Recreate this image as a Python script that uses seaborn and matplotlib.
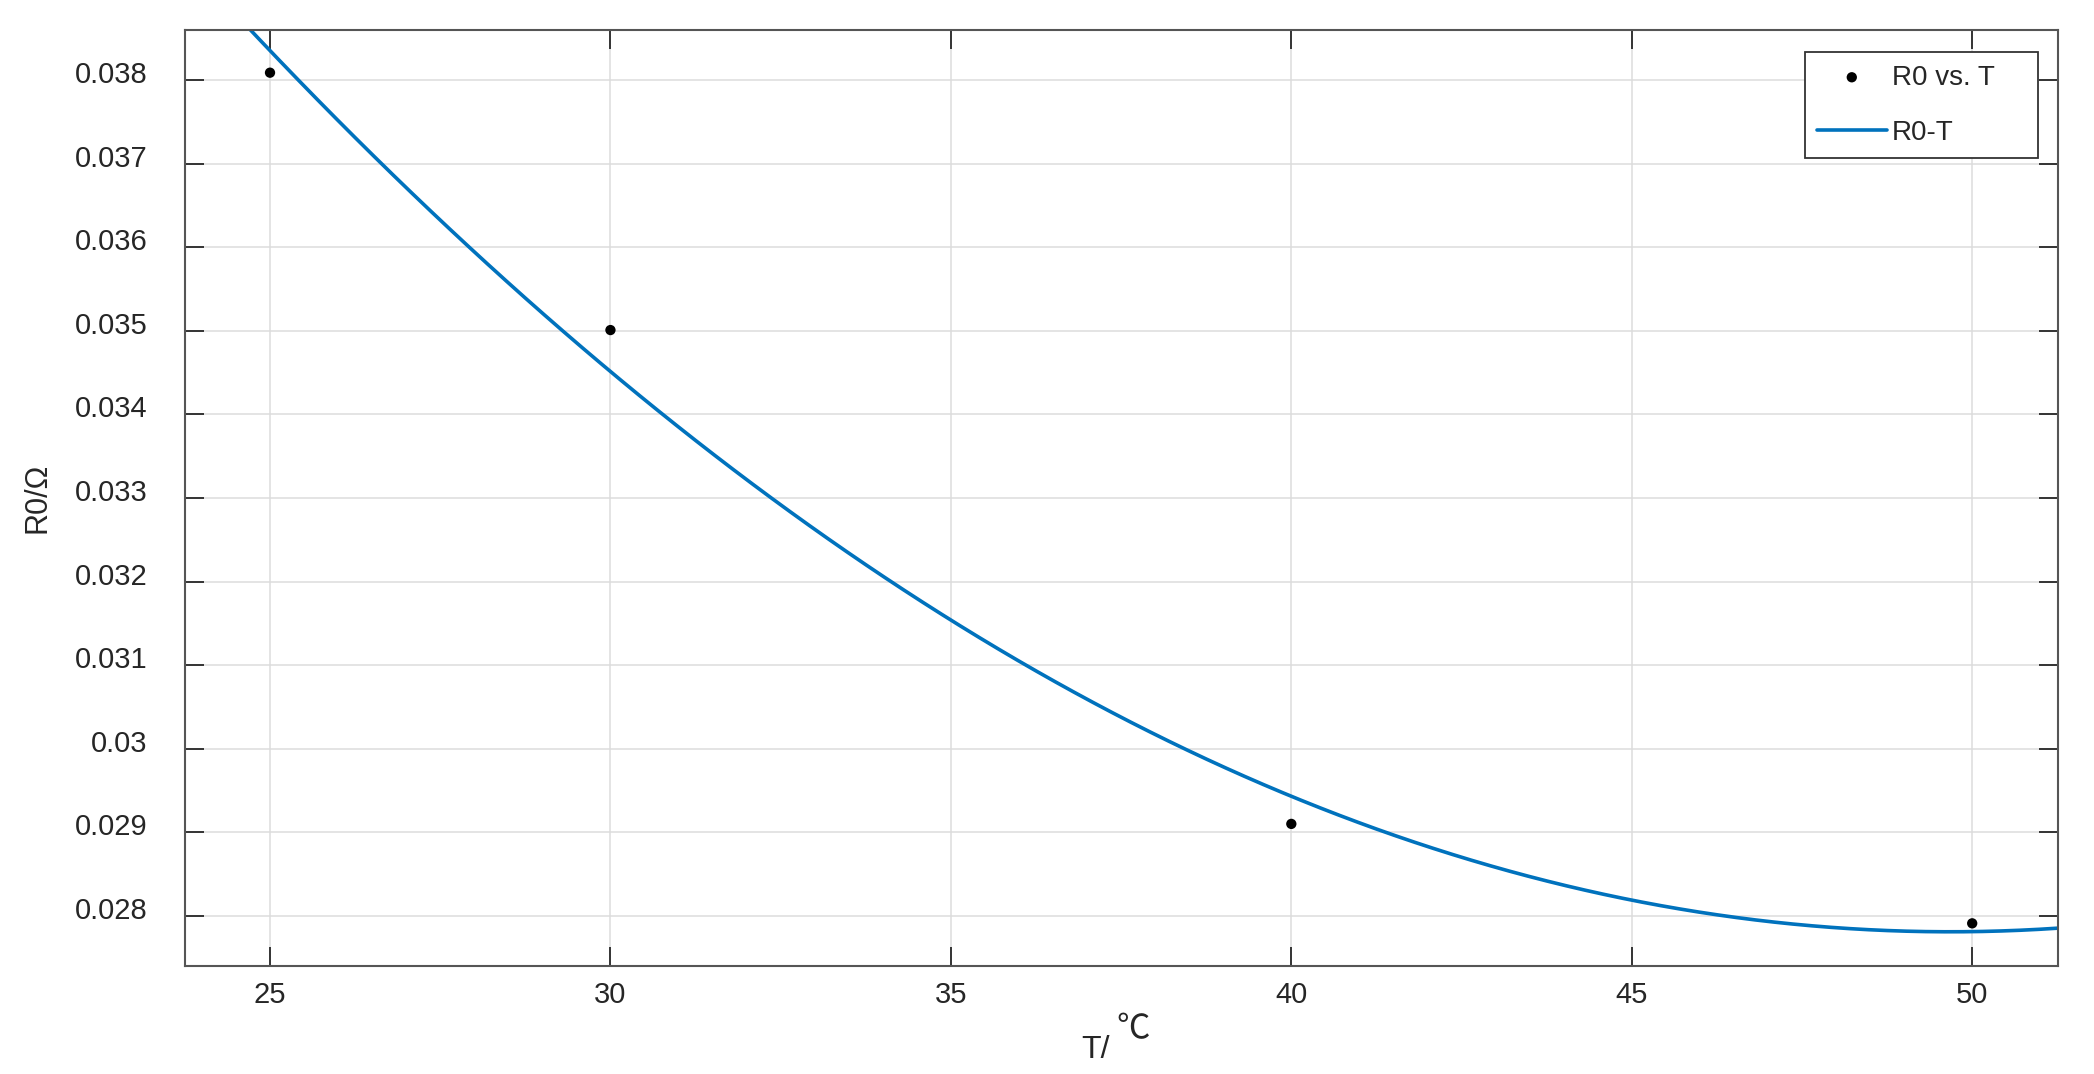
import numpy as np
import pandas as pd
import matplotlib
matplotlib.use('Agg')
import matplotlib.pyplot as plt
import matplotlib.transforms as mtransforms
import seaborn as sns

# Data
temps = [25, 30, 40, 50]
r0 = [0.03809, 0.03501, 0.02910, 0.02791]
xtick_vals = [25, 30, 35, 40, 45, 50]
ytick_vals = [0.028, 0.029, 0.030, 0.031, 0.032, 0.033, 0.034, 0.035, 0.036, 0.037, 0.038]
ytick_labels = ['0.028', '0.029', '0.03', '0.031', '0.032', '0.033', '0.034',
                '0.035', '0.036', '0.037', '0.038']

df = pd.DataFrame({'T': temps, 'R0': r0})

sns.set_theme(style='whitegrid')
plt.rcParams['font.family'] = ['Liberation Sans', 'DejaVu Sans']

fig = plt.figure(figsize=(20.94, 10.74), dpi=100)
ax = fig.add_axes([0.0883, 0.1006, 0.8945, 0.8714])
ax.set_facecolor('white')
ax.set_xlim(23.75, 51.26)
ax.set_ylim(0.02740, 0.03860)

# quadratic fit line, drawn by seaborn across the whole x range
sns.regplot(data=df, x='T', y='R0', order=2, ci=None, truncate=False,
            scatter=False, ax=ax, label='R0-T',
            line_kws={'color': '#0072BD', 'lw': 2.6})
sns.scatterplot(data=df, x='T', y='R0', ax=ax, color='black', s=55,
                edgecolor='none', label='R0 vs. T', zorder=5)

ax.set_xlim(23.75, 51.26)
ax.set_ylim(0.02740, 0.03860)
ax.set_xticks(xtick_vals)
ax.set_xticklabels([str(v) for v in xtick_vals])
ax.set_yticks(ytick_vals)
ax.set_yticklabels(ytick_labels)

ax.grid(True, color='#dcdcdc', lw=1.1)
for s in ax.spines.values():
    s.set_visible(True)
    s.set_color('#555555')
    s.set_linewidth(1.5)

ax.tick_params(axis='both', direction='in', length=14, width=1.3, color='#262626',
               labelsize=21, labelcolor='#262626', top=True, right=True,
               bottom=True, left=True)
ax.tick_params(axis='x', pad=11)
ax.tick_params(axis='y', pad=27)

# MATLAB-style y labels sit a little above their ticks
offset = mtransforms.ScaledTranslation(0, 8 / 100, fig.dpi_scale_trans)
for lab in ax.get_yticklabels():
    lab.set_transform(lab.get_transform() + offset)

# x label: "T/" with a raised degree-Celsius sign after it
ax.set_xlabel('T/', fontsize=23, color='#262626')
ax.xaxis.set_label_coords(0.4861, -0.074)
ax.annotate('℃', xy=(0.4861, -0.074), xycoords='axes fraction',
            xytext=(38, 24), textcoords='offset pixels', ha='center', va='top',
            fontsize=24, color='#262626', family=['Noto Sans CJK SC', 'DejaVu Sans'],
            fontweight='light', annotation_clip=False)
ax.set_ylabel('R0/Ω', fontsize=22, color='#262626', labelpad=16)

fit_line = ax.lines[0]
points = ax.collections[-1]
leg = ax.legend([points, fit_line], ['R0 vs. T    ', 'R0-T'],
                loc='upper right', bbox_to_anchor=(0.9893, 0.9765), borderaxespad=0,
                fontsize=20, frameon=True, fancybox=False, framealpha=1,
                borderpad=0.45, handlelength=2.5, handletextpad=0.2,
                labelspacing=1.05)
leg.get_frame().set_edgecolor('#333333')
leg.get_frame().set_linewidth(1.3)

fig.savefig('out.png', dpi=100)
